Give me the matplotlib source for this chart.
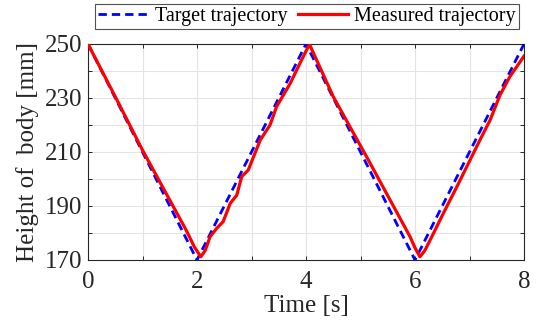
import matplotlib
matplotlib.use("Agg")
import matplotlib.pyplot as plt
from matplotlib.ticker import MultipleLocator, FuncFormatter

plt.rcParams['font.family'] = ['Liberation Serif', 'DejaVu Serif']
plt.rcParams['mathtext.fontset'] = 'stix'

# target: triangular height profile
target_t = [0, 2, 4, 6, 8]
target_h = [250, 170, 250, 170, 250]

# measured
meas_t = [0.0, 0.5, 1.0, 1.5, 1.8, 1.95, 2.07, 2.15, 2.24, 2.36, 2.48, 2.61, 2.73,
          2.82, 2.94, 3.16, 3.34, 3.46, 3.71, 3.89, 4.04, 4.07,
          4.5, 5.11, 5.91, 6.0, 6.09, 6.18, 6.34, 6.52, 6.77, 7.01, 7.19, 7.38,
          7.56, 7.74, 8.0]
meas_h = [250, 230.5, 210.7, 192.2, 181.1, 174.9, 171.2, 173.5, 178.6, 181.7, 184.2,
          191.0, 194.0, 200.9, 203.3, 214.4, 220.0, 226.8, 235.4, 242.9, 249.0, 249.6,
          230.5, 208.3, 178.6, 174.5, 171.2, 173.5, 179.9, 187.3, 197.2, 207.0, 214.4,
          221.9, 231.1, 237.9, 245.5]

fig = plt.figure(figsize=(5.41, 3.25), dpi=100)
ax = fig.add_axes([88/541, 1 - 260/325, 436/541, 216/325])

ax.plot(target_t, target_h, color="#0000ff", lw=2.0, ls=(0, (3, 1.8)),
        label="Target trajectory", zorder=3)
ax.plot(meas_t, meas_h, color="#ff0000", lw=2.3, label="Measured trajectory", zorder=4)

ax.set_xlim(0, 8)
ax.set_ylim(170, 250)
ax.xaxis.set_major_locator(MultipleLocator(1))
ax.yaxis.set_major_locator(MultipleLocator(10))
ax.xaxis.set_major_formatter(FuncFormatter(lambda v, p: f"{v:.0f}" if round(v) % 2 == 0 else ""))
ax.yaxis.set_major_formatter(FuncFormatter(lambda v, p: f"{v:.0f}" if round(v - 170) % 20 == 0 else ""))
ax.grid(True, color="#e3e3e3", lw=0.8)
ax.set_axisbelow(True)
ax.tick_params(direction="in", length=3, width=0.7, labelsize=18, colors="#262626",
               top=True, right=True)
ax.tick_params(axis="x", pad=8)
ax.tick_params(axis="y", pad=4)
for s in ax.spines.values():
    s.set_color("#262626")
    s.set_linewidth(0.8)

ax.set_xlabel("Time [s]", fontsize=18, color="#262626", labelpad=1)
ax.set_ylabel("Height of  body [mm]", fontsize=18, color="#262626", labelpad=4)

leg = fig.legend(loc="upper center", bbox_to_anchor=(307/541, 1.0),
                 ncol=2, fontsize=14.5, frameon=True, fancybox=False, edgecolor="#262626",
                 handlelength=2.5, handletextpad=0.3, columnspacing=0.5,
                 borderpad=0.15, borderaxespad=0.2)
leg.get_frame().set_linewidth(0.8)

fig.savefig("out.png", dpi=100, facecolor="white")
